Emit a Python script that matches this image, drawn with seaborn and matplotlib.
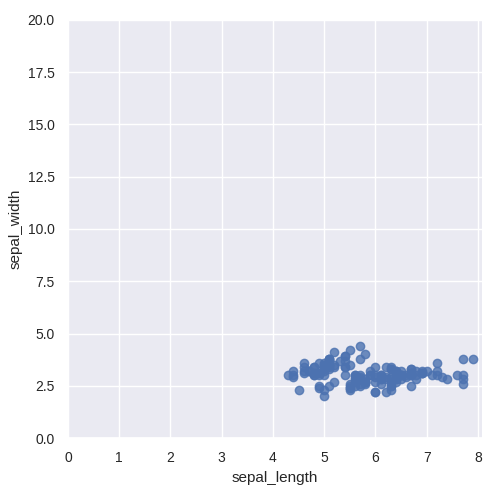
import pandas as pd
import matplotlib.pyplot as plt
from matplotlib.ticker import MultipleLocator
import seaborn as sns

# iris sepal measurements
sepal_length = [
    5.1, 4.9, 4.7, 4.6, 5.0, 5.4, 4.6, 5.0, 4.4, 4.9, 5.4, 4.8, 4.8, 4.3, 5.8, 5.7, 5.4, 5.1, 5.7, 5.1,
    5.4, 5.1, 4.6, 5.1, 4.8, 5.0, 5.0, 5.2, 5.2, 4.7, 4.8, 5.4, 5.2, 5.5, 4.9, 5.0, 5.5, 4.9, 4.4, 5.1,
    5.0, 4.5, 4.4, 5.0, 5.1, 4.8, 5.1, 4.6, 5.3, 5.0,
    7.0, 6.4, 6.9, 5.5, 6.5, 5.7, 6.3, 4.9, 6.6, 5.2, 5.0, 5.9, 6.0, 6.1, 5.6, 6.7, 5.6, 5.8, 6.2, 5.6,
    5.9, 6.1, 6.3, 6.1, 6.4, 6.6, 6.8, 6.7, 6.0, 5.7, 5.5, 5.5, 5.8, 6.0, 5.4, 6.0, 6.7, 6.3, 5.6, 5.5,
    5.5, 6.1, 5.8, 5.0, 5.6, 5.7, 5.7, 6.2, 5.1, 5.7,
    6.3, 5.8, 7.1, 6.3, 6.5, 7.6, 4.9, 7.3, 6.7, 7.2, 6.5, 6.4, 6.8, 5.7, 5.8, 6.4, 6.5, 7.7, 7.7, 6.0,
    6.9, 5.6, 7.7, 6.3, 6.7, 7.2, 6.2, 6.1, 6.4, 7.2, 7.4, 7.9, 6.4, 6.3, 6.1, 7.7, 6.3, 6.4, 6.0, 6.9,
    6.7, 6.9, 5.8, 6.8, 6.7, 6.7, 6.3, 6.5, 6.2, 5.9,
]
sepal_width = [
    3.5, 3.0, 3.2, 3.1, 3.6, 3.9, 3.4, 3.4, 2.9, 3.1, 3.7, 3.4, 3.0, 3.0, 4.0, 4.4, 3.9, 3.5, 3.8, 3.8,
    3.4, 3.7, 3.6, 3.3, 3.4, 3.0, 3.4, 3.5, 3.4, 3.2, 3.1, 3.4, 4.1, 4.2, 3.1, 3.2, 3.5, 3.6, 3.0, 3.4,
    3.5, 2.3, 3.2, 3.5, 3.8, 3.0, 3.8, 3.2, 3.7, 3.3,
    3.2, 3.2, 3.1, 2.3, 2.8, 2.8, 3.3, 2.4, 2.9, 2.7, 2.0, 3.0, 2.2, 2.9, 2.9, 3.1, 3.0, 2.7, 2.2, 2.5,
    3.2, 2.8, 2.5, 2.8, 2.9, 3.0, 2.8, 3.0, 2.9, 2.6, 2.4, 2.4, 2.7, 2.7, 3.0, 3.4, 3.1, 2.3, 3.0, 2.5,
    2.6, 3.0, 2.6, 2.3, 2.7, 3.0, 2.9, 2.9, 2.5, 2.8,
    3.3, 2.7, 3.0, 2.9, 3.0, 3.0, 2.5, 2.9, 2.5, 3.6, 3.2, 2.7, 3.0, 2.5, 2.8, 3.2, 3.0, 3.8, 2.6, 2.2,
    3.2, 2.8, 2.8, 2.7, 3.3, 3.2, 2.8, 3.0, 2.8, 3.0, 2.8, 3.8, 2.8, 2.8, 2.6, 3.0, 3.4, 3.1, 3.0, 3.1,
    3.1, 3.1, 2.7, 3.2, 3.3, 3.0, 2.5, 3.0, 3.4, 3.0,
]

df = pd.DataFrame({"sepal_length": sepal_length, "sepal_width": sepal_width})

sns.set_theme(rc={"axes.labelsize": 11, "xtick.labelsize": 10, "ytick.labelsize": 10})
plt.rcParams["font.family"] = ["Liberation Sans", "DejaVu Sans"]

g = sns.lmplot(x="sepal_length", y="sepal_width", data=df, fit_reg=False, height=5)
g.set(xlim=(0, None), ylim=(0, 20))
g.ax.xaxis.set_major_locator(MultipleLocator(1))
g.figure.subplots_adjust(left=0.136, right=0.964, top=0.96, bottom=0.124)
plt.savefig("out.png", dpi=100)
